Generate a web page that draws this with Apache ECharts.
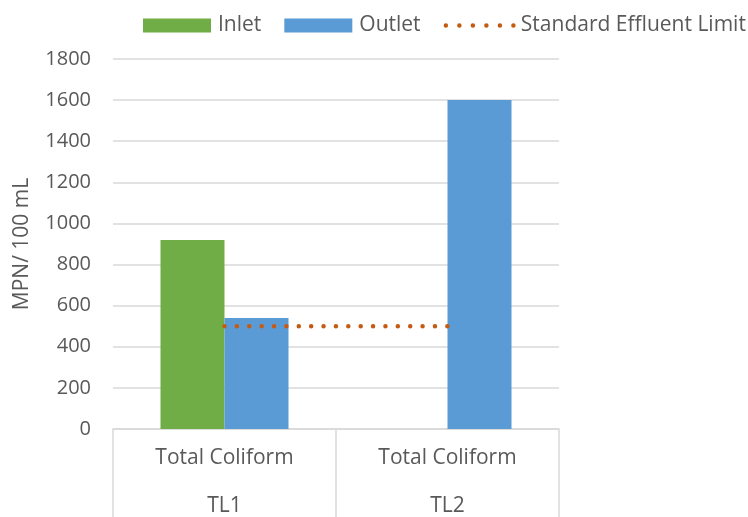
<!DOCTYPE html>
<html>
<head>
<meta charset="utf-8">
<script src="https://cdn.jsdelivr.net/npm/echarts@6/dist/echarts.min.js"></script>
<style>
  html, body { margin: 0; padding: 0; background: #fff; }
  #chart { width: 748px; height: 517px; }
</style>
</head>
<body>
<div id="chart"></div>
<script>
// Coliform counts per sampling site
const sites = ['TL1', 'TL2'];
const parameterLabels = ['Total Coliform', 'Total Coliform'];
const inletValues = [920, null];
const outletValues = [540, 1600];
const effluentLimit = [500, 500];
const yTicks = { min: 0, max: 1800, interval: 200 };

const textColor = '#595959';
const font = 'Open Sans';
const limitColor = '#c55a11';

const chart = echarts.init(document.getElementById('chart'));
chart.setOption({
  animation: false,
  textStyle: { fontFamily: font, color: textColor },
  legend: {
    left: 143,
    top: 15,
    width: 700,
    padding: 0,
    itemWidth: 68,
    itemHeight: 14,
    itemGap: 23,
    textStyle: { fontFamily: font, fontSize: 21, color: textColor, padding: [0, 0, 0, 2] },
    data: [
      { name: 'Inlet', icon: 'rect' },
      { name: 'Outlet', icon: 'rect' },
      {
        name: 'Standard Effluent Limit',
        itemStyle: { opacity: 0 },
        lineStyle: { color: limitColor, width: 4.5, type: [0.01, 13.5], cap: 'round' }
      }
    ]
  },
  grid: { left: 113, right: 189, top: 59, bottom: 87, containLabel: false },
  xAxis: [
    {
      type: 'category',
      data: parameterLabels,
      position: 'bottom',
      axisLine: { lineStyle: { color: '#d9d9d9', width: 1.5 } },
      axisTick: { show: true, length: 90, lineStyle: { color: '#d9d9d9', width: 1.5 } },
      axisLabel: { margin: 19, fontSize: 21, color: textColor, fontFamily: font }
    },
    {
      type: 'category',
      data: sites,
      position: 'bottom',
      axisLine: { show: false },
      axisTick: { show: false },
      axisLabel: { margin: 67, fontSize: 21, color: textColor, fontFamily: font }
    }
  ],
  yAxis: {
    type: 'value',
    min: yTicks.min,
    max: yTicks.max,
    interval: yTicks.interval,
    name: 'MPN/ 100 mL',
    nameLocation: 'middle',
    nameGap: 80,
    nameTextStyle: { fontSize: 21, color: textColor, fontFamily: font },
    axisLine: { show: false },
    axisTick: { show: false },
    axisLabel: {
      margin: 22, fontSize: 20, color: textColor, fontFamily: font,
      formatter: (v) => String(v)
    },
    splitLine: { lineStyle: { color: '#d9d9d9', width: 1.5 } }
  },
  series: [
    {
      name: 'Inlet',
      type: 'bar',
      xAxisIndex: 0,
      data: inletValues,
      barWidth: 64,
      barGap: '0%',
      itemStyle: { color: '#70ad47' }
    },
    {
      name: 'Outlet',
      type: 'bar',
      xAxisIndex: 0,
      data: outletValues,
      barWidth: 64,
      barGap: '0%',
      itemStyle: { color: '#5b9bd5' }
    },
    {
      name: 'Standard Effluent Limit',
      type: 'line',
      xAxisIndex: 0,
      data: effluentLimit,
      symbol: 'none',
      showSymbol: false,
      z: 5,
      lineStyle: { color: limitColor, width: 4.5, type: [0.01, 12.37], cap: 'round' },
      itemStyle: { color: limitColor }
    }
  ]
});
</script>
</body>
</html>
